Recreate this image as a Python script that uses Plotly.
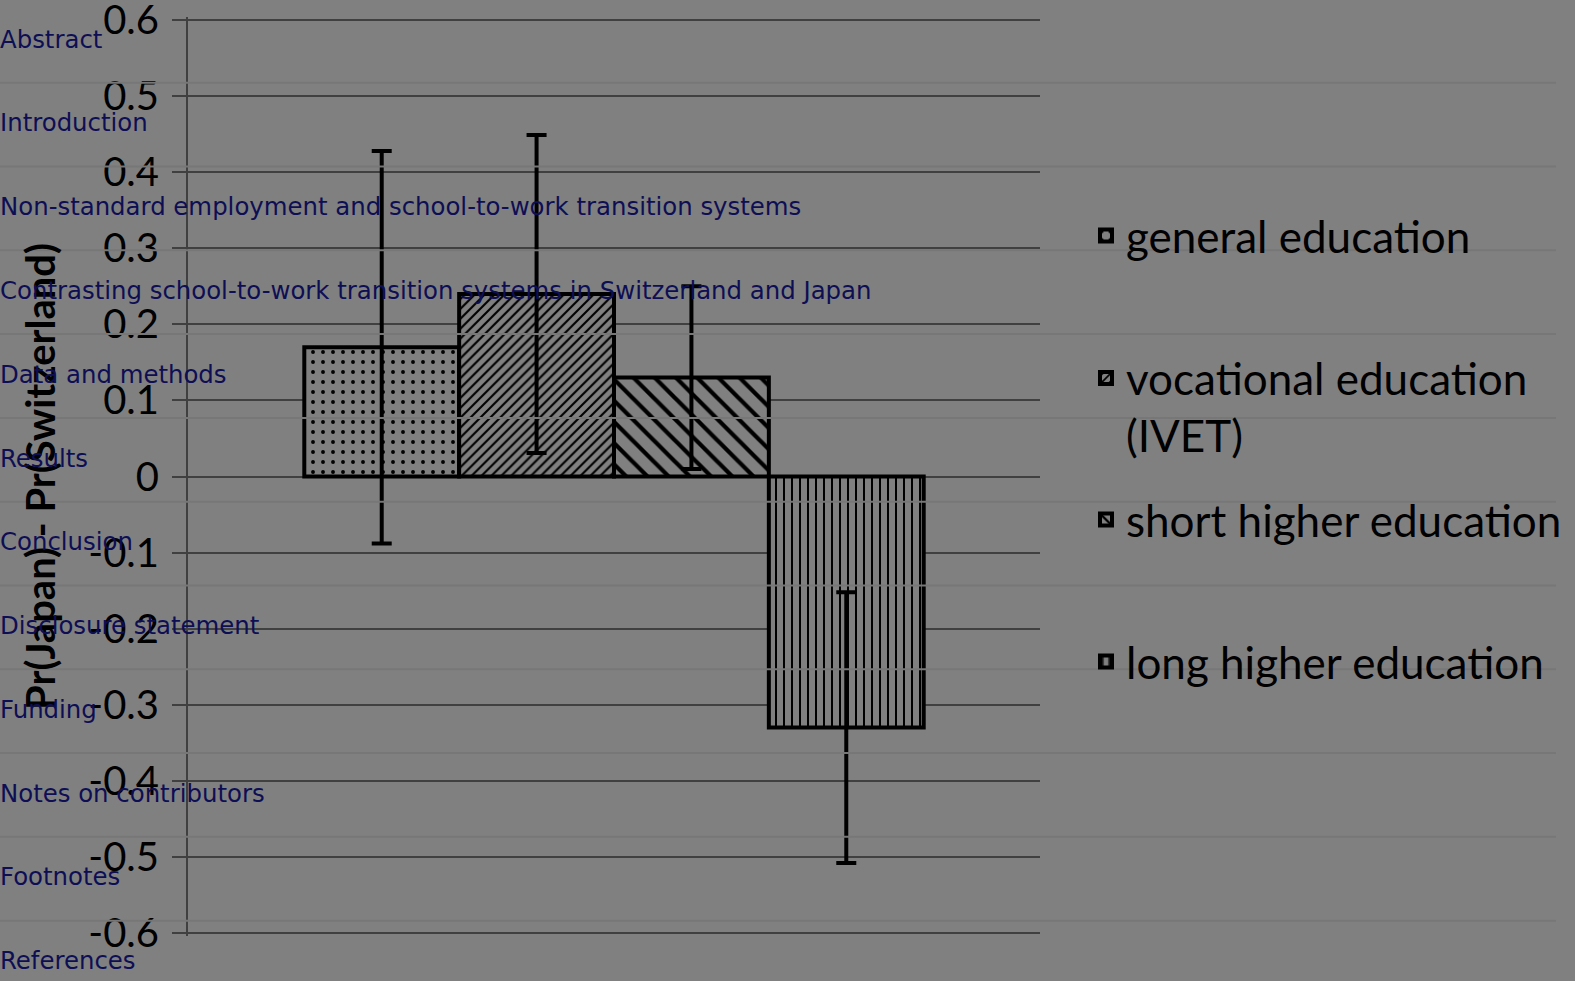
import plotly.graph_objects as go

# ---- data ----
series = ["general education", "vocational education<br>(IVET)",
          "short higher education", "long higher education"]
values = [0.17, 0.24, 0.13, -0.33]
errors = [0.258, 0.209, 0.12, 0.178]
patterns = [".", "/", "\\", "|"]
pattern_sizes = [10, 7, 15, 8]
pattern_solidity = [0.12, 0.3, 0.28, 0.25]
y_ticks = [0.6, 0.5, 0.4, 0.3, 0.2, 0.1, 0, -0.1, -0.2, -0.3, -0.4, -0.5, -0.6]
y_ticktext = ["0.6", "0.5", "0.4", "0.3", "0.2", "0.1", "0", "-0.1", "-0.2",
              "-0.3", "-0.4", "-0.5", "-0.6"]
nav_items = ["Abstract", "Introduction",
             "Non-standard employment and school-to-work transition systems",
             "Contrasting school-to-work transition systems in Switzerland and Japan",
             "Data and methods", "Results", "Conclusion", "Disclosure statement",
             "Funding", "Notes on contributors", "Footnotes", "References"]

# ---- layout geometry (pixels) ----
W, H = 1575, 981
Y0_PX, Y1_PX = 20, 933          # pixel rows of +0.6 and -0.6
EXT = 0.004                      # small range extension so edge gridlines are drawn
PPU = (Y1_PX - Y0_PX) / 1.2
L, R = 188, 1040
T = Y0_PX - EXT * PPU
B = Y1_PX + EXT * PPU


def xp(px):
    return (px - L) / (R - L)


def yp(py):
    return (B - py) / (B - T)


BG = "#808080"
GRID = "#404040"

fig = go.Figure()
legend_names = ["legend", "legend2", "legend3", "legend4"]
for i, name in enumerate(series):
    fig.add_trace(go.Bar(
        x=[0], y=[values[i]], name=name,
        marker=dict(color=BG, line=dict(color="black", width=4),
                    pattern=dict(shape=patterns[i], fgcolor="black", bgcolor=BG,
                                 size=pattern_sizes[i], solidity=pattern_solidity[i],
                                 fillmode="replace")),
        error_y=dict(type="data", array=[errors[i]], color="black",
                     thickness=4, width=10),
        legend=legend_names[i],
        showlegend=True,
    ))

legend_y = [236, 407, 520, 662]
legend_common = dict(xanchor="left", yanchor="middle", bgcolor="rgba(0,0,0,0)",
                     font=dict(family="Lato", size=44, color="black"),
                     valign="top", itemclick=False)
layout_legends = {}
for i, ln in enumerate(legend_names):
    layout_legends[ln] = dict(x=xp(1086), y=yp(legend_y[i]), **legend_common)

annotations = []
nav_y0, nav_step = 39, 83.8
for k, txt in enumerate(nav_items):
    annotations.append(dict(
        text=txt, xref="paper", yref="paper", x=xp(-2), y=yp(nav_y0 + k * nav_step),
        xanchor="left", yanchor="middle", showarrow=False,
        font=dict(family="DejaVu Sans", size=24.4, color="#0e0e55")))

shapes = []
for k in range(11):
    yy = 82.7 + k * nav_step
    shapes.append(dict(type="line", xref="paper", yref="paper",
                       x0=xp(0), x1=xp(1556), y0=yp(yy), y1=yp(yy),
                       line=dict(color="#777777", width=2), layer="above"))

fig.update_layout(
    width=W, height=H, autosize=False,
    margin=dict(l=L, r=W - R, t=T, b=H - B, pad=0, autoexpand=False),
    paper_bgcolor=BG, plot_bgcolor=BG,
    font=dict(family="Lato", color="black"),
    barmode="group", bargap=0.273, bargroupgap=0,
    annotations=annotations, shapes=shapes,
    **layout_legends,
)
fig.update_xaxes(range=[-0.5, 0.5], showticklabels=False, showgrid=False,
                 zeroline=False, showline=False, ticks="", automargin=False)
fig.update_yaxes(range=[-0.6 - EXT, 0.6 + EXT], tickvals=y_ticks, ticktext=y_ticktext,
                 automargin=False,
                 showgrid=True, gridcolor=GRID, gridwidth=2,
                 zeroline=False, showline=True, linecolor=GRID, linewidth=2,
                 ticks="outside", ticklen=14, tickcolor=GRID, tickwidth=2,
                 ticklabelstandoff=5, ticklabeloverflow="allow",
                 tickfont=dict(family="Lato", size=40, color="black"),
                 title=dict(text="<b>Pr(Japan) - Pr(Switzerland)</b>",
                            font=dict(family="Lato", size=40, color="black"),
                            standoff=20))

fig.write_html("out.html", config={"displayModeBar": False},
               post_script="document.body.style.margin='0px';")
